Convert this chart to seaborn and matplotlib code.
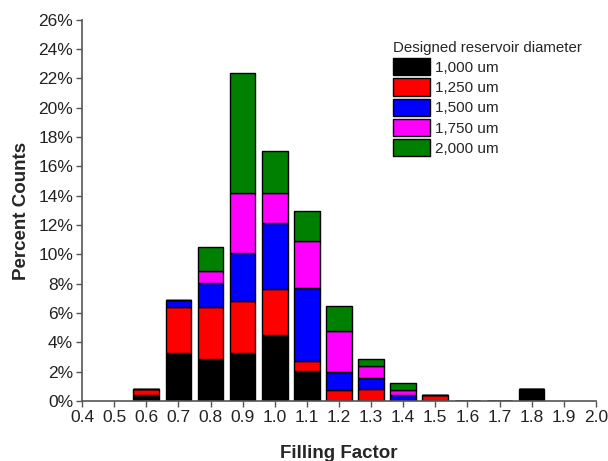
import numpy as np
import pandas as pd
import seaborn as sns
import matplotlib
matplotlib.use("Agg")
import matplotlib.pyplot as plt
from matplotlib.patches import Patch
from matplotlib.ticker import FuncFormatter, MultipleLocator

# Data (percent counts)
centers = [0.6, 0.7, 0.8, 0.9, 1.0, 1.1, 1.2, 1.3, 1.4, 1.5, 1.8]
series_names = ["1,000 um", "1,250 um", "1,500 um", "1,750 um", "2,000 um"]
d1000 = [0.41, 3.25, 2.84, 3.25, 4.48, 2.03, 0.0, 0.0, 0.0, 0.0, 0.82]
d1250 = [0.41, 3.19, 3.60, 3.60, 3.17, 0.72, 0.75, 0.80, 0.0, 0.39, 0.0]
d1500 = [0.0, 0.45, 1.64, 3.27, 4.52, 4.94, 1.23, 0.80, 0.38, 0.0, 0.0]
d1750 = [0.0, 0.0, 0.82, 4.05, 2.00, 3.23, 2.82, 0.80, 0.40, 0.0, 0.0]
d2000 = [0.0, 0.0, 1.60, 8.20, 2.85, 2.05, 1.68, 0.45, 0.42, 0.0, 0.0]
colors = ["#000000", "#ff0000", "#0000ff", "#ff00ff", "#008000"]
xticks = [round(0.4 + 0.1 * i, 1) for i in range(17)]

rows = []
for name, vals in zip(series_names, [d1000, d1250, d1500, d1750, d2000]):
    for c, v in zip(centers, vals):
        rows.append({"ff": c, "pct": v, "diam": name})
df = pd.DataFrame(rows)

sns.set_style("ticks")
plt.rcParams["font.family"] = ["Liberation Sans", "DejaVu Sans"]

fig = plt.figure(figsize=(6.08, 4.61), dpi=100)
ax = fig.add_axes([0.135, 0.130, 0.845, 0.827])

palette = dict(zip(series_names, colors))
bin_edges = [round(0.55 + 0.1 * i, 2) for i in range(14)]
# seaborn draws first hue level on top, so reverse order
sns.histplot(data=df, x="ff", weights="pct", hue="diam",
             hue_order=series_names[::-1], palette=palette,
             multiple="stack", bins=bin_edges,
             shrink=0.8, alpha=1, edgecolor="black", linewidth=1.0,
             legend=False, ax=ax)

ax.set_xlim(0.4, 2.0)
ax.set_ylim(0, 26)
ax.set_xticks(xticks)
ax.set_xticklabels([f"{t:.1f}" for t in xticks])
ax.yaxis.set_major_locator(MultipleLocator(2))
ax.yaxis.set_major_formatter(FuncFormatter(lambda v, p: f"{v:.0f}%"))
ax.tick_params(axis="both", labelsize=12.5, direction="out", length=4, width=1,
               colors="#555555", labelcolor="#222222", pad=2.5)
for s in ["top", "right"]:
    ax.spines[s].set_visible(False)
for s in ["left", "bottom"]:
    ax.spines[s].set_color("#555555")
    ax.spines[s].set_linewidth(1.2)

ax.set_xlabel("Filling Factor", fontsize=13.5, fontweight="bold", labelpad=14)
ax.set_ylabel("Percent Counts", fontsize=13.5, fontweight="bold", labelpad=6)

handles = [Patch(facecolor=c, edgecolor="black", linewidth=1) for c in colors]
leg = ax.legend(handles, series_names, title="Designed reservoir diameter",
                loc="upper left", bbox_to_anchor=(0.594, 0.96), frameon=False,
                fontsize=11, title_fontsize=10.8, handlelength=2.4, handleheight=1.35,
                labelspacing=0.2, handletextpad=0.3, borderaxespad=0)
leg._legend_box.align = "left"

fig.savefig("out.png", dpi=100)
